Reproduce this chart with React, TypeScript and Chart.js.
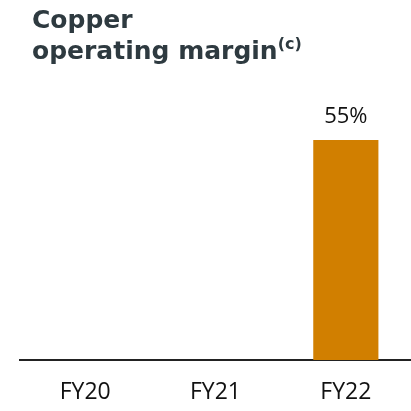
import React, { useEffect, useRef } from "react";
import { Chart, registerables } from "chart.js";

Chart.register(...registerables);

const categories = ["FY20", "FY21", "FY22"];
const margins: (number | null)[] = [null, null, 55];
const valueLabels = ["", "", "55%"];

const barLabelPlugin = {
  id: "barLabels",
  afterDatasetsDraw(chart: any) {
    const ctx = chart.ctx;
    const meta = chart.getDatasetMeta(0);
    ctx.save();
    ctx.fillStyle = "#111";
    ctx.font = "22px 'Open Sans', sans-serif";
    ctx.textAlign = "center";
    ctx.textBaseline = "alphabetic";
    meta.data.forEach((el: any, i: number) => {
      if (margins[i] == null) return;
      ctx.fillText(valueLabels[i], el.x, el.y - 17);
    });
    ctx.restore();
  },
};

export default function App() {
  const ref = useRef<HTMLCanvasElement>(null);
  useEffect(() => {
    const chart = new Chart(ref.current!, {
      type: "bar",
      data: {
        labels: categories,
        datasets: [
          {
            data: margins,
            backgroundColor: "#D17F00",
            barPercentage: 1,
            categoryPercentage: 0.5,
          },
        ],
      },
      options: {
        animation: false,
        responsive: false,
        layout: { padding: { left: 20, right: -3, top: 80, bottom: 0 } },
        plugins: { legend: { display: false }, tooltip: { enabled: false } },
        scales: {
          x: {
            grid: { display: false },
            border: { display: true, color: "#222", width: 2 },
            ticks: {
              color: "#111",
              font: { size: 23, family: "'Open Sans', sans-serif" },
              padding: 11,
            },
            afterFit: (scale: any) => {
              scale.height = 51;
            },
          },
          y: { display: false, min: 0, max: 55 * (280 / 220) },
        },
      },
      plugins: [barLabelPlugin],
    });
    return () => chart.destroy();
  }, []);
  return (
    <div style={{ position: "fixed", left: 0, top: 0, width: 411, height: 411, overflow: "hidden", background: "#fff" }}>
      <canvas ref={ref} width={411} height={411} style={{ position: "absolute", left: 0, top: 0 }} />
      <div
        style={{
          position: "absolute",
          left: 32,
          top: 4,
          fontFamily: "'DejaVu Sans', sans-serif",
          fontWeight: 700,
          fontSize: 25,
          lineHeight: "31px",
          color: "#2E3A40",
          whiteSpace: "nowrap",
        }}
      >
        Copper
        <br />
        operating margin<sup style={{ fontSize: 16, verticalAlign: 0, position: "relative", top: -10 }}>(c)</sup>
      </div>
    </div>
  );
}
